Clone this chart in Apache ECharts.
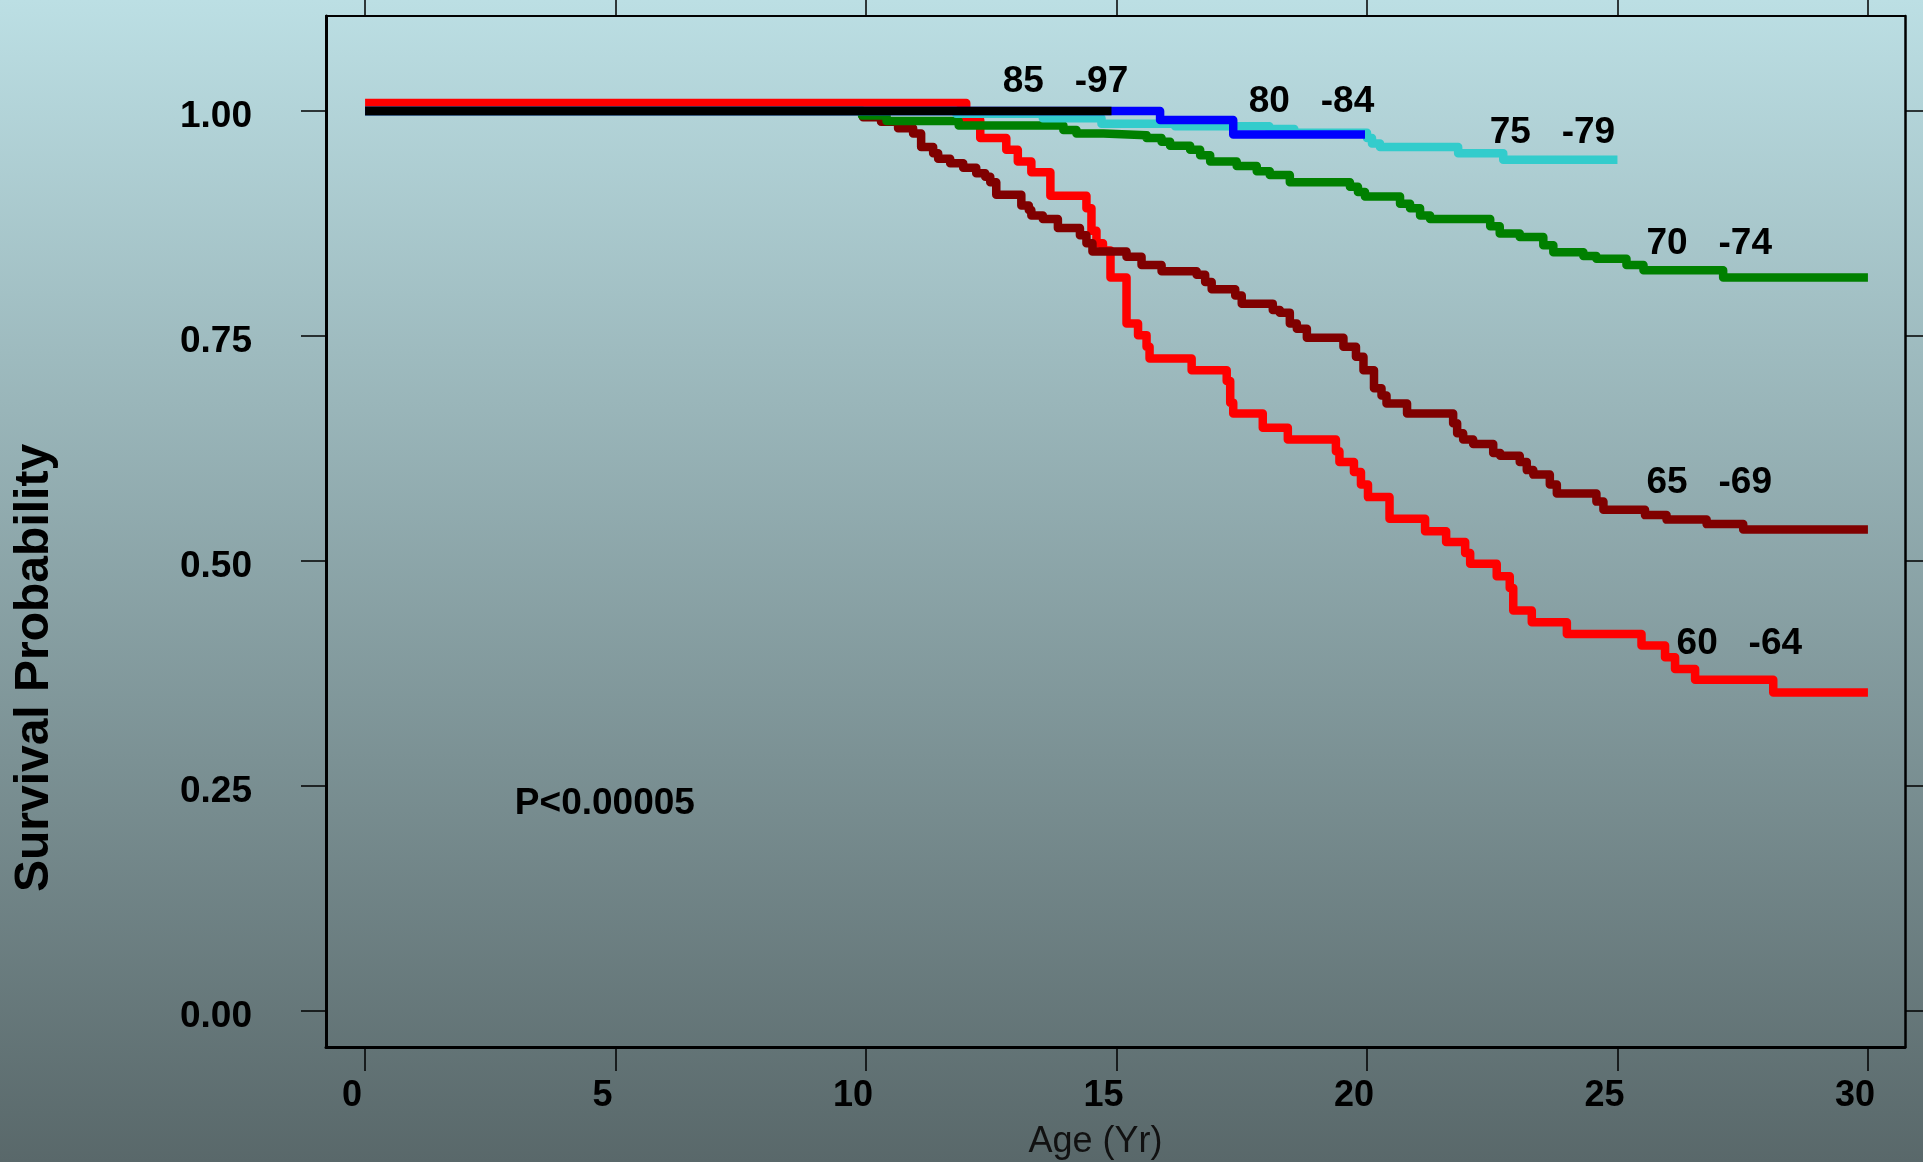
<!DOCTYPE html>
<html>
<head>
<meta charset="utf-8">
<title>Survival probability by age group</title>
<script src="https://cdn.jsdelivr.net/npm/echarts@6/dist/echarts.min.js"></script>
<style>
  html, body { margin: 0; padding: 0; }
  #main { width: 1923px; height: 1162px; }
</style>
</head>
<body>
<div id="main"></div>
<script>
// ages (yr) where each curve steps, and survival after the step
var age6064 = [0, 12.0, 12.28, 12.8, 13.03, 13.3, 13.68, 14.4, 14.5, 14.6, 14.73, 14.88, 15.2, 15.43, 15.6, 15.66, 16.5, 17.2, 17.27, 17.33, 17.92, 18.42, 19.38, 19.45, 19.74, 19.88, 20.02, 20.45, 21.16, 21.58, 21.96, 22.06, 22.59, 22.85, 22.92, 23.29, 23.99, 25.48, 25.95, 26.15, 26.55, 28.11, 30.0];
var surv6064 = [1.009, 0.990, 0.970, 0.957, 0.944, 0.932, 0.906, 0.892, 0.867, 0.853, 0.845, 0.815, 0.764, 0.751, 0.738, 0.725, 0.712, 0.700, 0.676, 0.664, 0.648, 0.635, 0.622, 0.610, 0.599, 0.585, 0.571, 0.547, 0.533, 0.521, 0.509, 0.497, 0.483, 0.470, 0.445, 0.432, 0.419, 0.406, 0.393, 0.380, 0.368, 0.354, 0.354];

var age6569 = [0, 9.94, 10.3, 10.64, 10.94, 11.1, 11.34, 11.44, 11.68, 11.94, 12.2, 12.38, 12.48, 12.6, 13.1, 13.25, 13.3, 13.53, 13.83, 14.27, 14.4, 14.52, 15.2, 15.5, 15.9, 16.6, 16.77, 16.9, 17.37, 17.5, 18.12, 18.26, 18.46, 18.6, 18.8, 19.53, 19.78, 19.93, 20.14, 20.29, 20.39, 20.8, 21.72, 21.8, 21.92, 22.12, 22.52, 22.66, 23.05, 23.19, 23.32, 23.65, 23.79, 24.58, 24.72, 25.55, 25.98, 26.78, 27.51, 30.0];
var surv6569 = [1.0, 0.993, 0.988, 0.981, 0.975, 0.960, 0.953, 0.947, 0.942, 0.937, 0.931, 0.927, 0.921, 0.907, 0.895, 0.890, 0.884, 0.880, 0.870, 0.862, 0.853, 0.844, 0.838, 0.829, 0.822, 0.818, 0.810, 0.802, 0.795, 0.786, 0.779, 0.776, 0.764, 0.758, 0.748, 0.738, 0.727, 0.712, 0.692, 0.684, 0.675, 0.664, 0.653, 0.642, 0.635, 0.630, 0.620, 0.617, 0.610, 0.601, 0.596, 0.585, 0.575, 0.566, 0.557, 0.551, 0.546, 0.541, 0.535, 0.535];

var age7074 = [0, 9.92, 10.41, 11.85, 13.94, 14.2, 14.74, 15.6, 15.9, 16.07, 16.47, 16.67, 16.87, 17.4, 17.8, 18.06, 18.46, 19.66, 19.82, 19.96, 20.66, 20.86, 21.06, 21.26, 22.46, 22.65, 23.05, 23.52, 23.72, 24.32, 24.58, 25.18, 25.52, 27.11, 30.0];
var surv7074 = [1.0, 0.995, 0.989, 0.984, 0.979, 0.975, 0.973, 0.970, 0.966, 0.9615, 0.957, 0.951, 0.944, 0.939, 0.933, 0.929, 0.921, 0.916, 0.910, 0.905, 0.897, 0.892, 0.884, 0.880, 0.872, 0.864, 0.860, 0.851, 0.843, 0.839, 0.836, 0.829, 0.823, 0.815, 0.815];

var age7579 = [0, 11.8, 13.53, 14.7, 16.17, 18.05, 18.55, 20.0, 20.1, 20.26, 21.82, 22.72, 25.0];
var surv7579 = [1.0, 0.997, 0.992, 0.986, 0.983, 0.980, 0.976, 0.970, 0.964, 0.960, 0.953, 0.946, 0.946];

var age8084 = [0, 15.87, 17.33, 19.96];
var surv8084 = [1.0, 0.990, 0.974, 0.974];

var age8597 = [0, 14.9];
var surv8597 = [1.0, 1.0];

var xTicks = [0, 5, 10, 15, 20, 25, 30];
var yTicks = [0, 0.25, 0.5, 0.75, 1.0];

// curve labels, anchored at the left end of the text (data units)
var groupNames = ['85   -97', '80   -84', '75   -79', '70   -74', '65   -69', '60   -64'];
var groupLabelAge = [12.73, 17.64, 22.45, 25.58, 25.58, 26.18];
var groupLabelSurv = [1.032, 1.010, 0.9755, 0.853, 0.5865, 0.4075];
var pText = 'P<0.00005';
var pAt = [2.99, 0.230];

function pairs(xs, ys) {
  return xs.map(function (x, i) { return [x, ys[i]]; });
}

function km(name, xs, ys, color) {
  return {
    name: name,
    type: 'line',
    step: 'end',
    data: pairs(xs, ys),
    symbol: 'none',
    silent: true,
    lineStyle: { color: color, width: 8.5, cap: 'butt', join: 'round' }
  };
}

var chart = echarts.init(document.getElementById('main'));
var axisCol = '#000';

chart.setOption({
  animation: false,
  backgroundColor: {
    type: 'linear', x: 0, y: 0, x2: 0, y2: 1,
    colorStops: [
      { offset: 0, color: '#bcdfe4' },
      { offset: 1, color: '#59686a' }
    ]
  },
  grid: { left: 326, right: 18, top: 16, bottom: 115, outerBoundsMode: 'none' },
  xAxis: [
    {
      type: 'value', position: 'bottom', min: -0.78, max: 30.74,
      axisLine: { show: true, onZero: false, lineStyle: { color: axisCol, width: 3 } },
      axisTick: { show: true, inside: false, length: 24, customValues: xTicks, lineStyle: { color: axisCol, width: 1.5 } },
      axisLabel: {
        customValues: xTicks, margin: 31, color: '#000',
        fontFamily: 'Liberation Sans', fontWeight: 'bold', fontSize: 36,
        padding: [0, 26, 0, 0]
      },
      splitLine: { show: false },
      name: 'Age (Yr)', nameLocation: 'middle', nameGap: 77,
      nameTextStyle: { fontFamily: 'Liberation Sans', fontSize: 36, color: '#111', padding: [0, 40, 0, 0] }
    },
    {
      type: 'value', position: 'top', min: -0.78, max: 30.74,
      axisLine: { show: true, onZero: false, lineStyle: { color: axisCol, width: 2 } },
      axisTick: { show: true, inside: false, length: 24, customValues: xTicks, lineStyle: { color: axisCol, width: 1.5 } },
      axisLabel: { show: false },
      splitLine: { show: false }
    }
  ],
  yAxis: [
    {
      type: 'value', position: 'left', min: -0.04, max: 1.1056,
      axisLine: { show: true, onZero: false, lineStyle: { color: axisCol, width: 3 } },
      axisTick: { show: true, inside: false, length: 25, customValues: yTicks, lineStyle: { color: axisCol, width: 1.5 } },
      axisLabel: {
        customValues: yTicks, margin: 74, color: '#000',
        fontFamily: 'Liberation Sans', fontWeight: 'bold', fontSize: 37,
        verticalAlign: 'top', lineHeight: 12,
        formatter: function (v) { return v.toFixed(2); }
      },
      splitLine: { show: false }
    },
    {
      type: 'value', position: 'right', min: -0.04, max: 1.1056,
      axisLine: { show: true, onZero: false, lineStyle: { color: axisCol, width: 2.5 } },
      axisTick: { show: true, inside: false, length: 24, customValues: yTicks, lineStyle: { color: axisCol, width: 1.5 } },
      axisLabel: { show: false },
      splitLine: { show: false }
    }
  ],
  series: [
    km('60 - 64', age6064, surv6064, '#ff0000'),
    km('65 - 69', age6569, surv6569, '#800000'),
    km('70 - 74', age7074, surv7074, '#008000'),
    km('75 - 79', age7579, surv7579, '#33cccc'),
    km('80 - 84', age8084, surv8084, '#0000ff'),
    km('85 - 97', age8597, surv8597, '#000000')
  ]
});

// text annotations placed through the axes' own scale
function textAt(str, at, size) {
  var p = chart.convertToPixel({ gridIndex: 0 }, at);
  return {
    type: 'text', x: p[0], y: p[1], z: 10, silent: true,
    style: {
      text: str, fill: '#000', align: 'left', verticalAlign: 'middle',
      font: 'bold ' + size + 'px "Liberation Sans"'
    }
  };
}

var notes = groupNames.map(function (n, i) {
  return textAt(n, [groupLabelAge[i], groupLabelSurv[i]], 37);
});
notes.push(textAt(pText, pAt, 37));
notes.push({
  type: 'text', x: 35, y: 668, rotation: Math.PI / 2, silent: true,
  style: {
    text: 'Survival Probability', fill: '#000',
    font: 'bold 48px "Liberation Sans"', align: 'center', verticalAlign: 'middle'
  }
});

chart.setOption({ graphic: notes });
</script>
</body>
</html>
